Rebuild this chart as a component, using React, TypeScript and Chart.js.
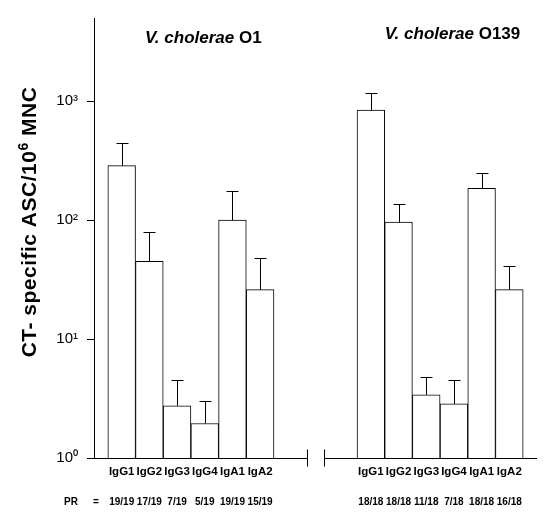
import React, { useEffect, useRef } from "react";
import { Chart, registerables } from "chart.js";
Chart.register(...registerables);

const isotypes = ["IgG1", "IgG2", "IgG3", "IgG4", "IgA1", "IgA2"];
const o1Values = [287, 45, 2.75, 1.95, 100, 26];
const o1ErrTop = [447, 79, 4.5, 3.0, 177, 48];
const o139Values = [840, 96, 3.4, 2.85, 185, 26];
const o139ErrTop = [1170, 136, 4.8, 4.5, 250, 41];
const o1PR = ["19/19", "17/19", "7/19", "5/19", "19/19", "15/19"];
const o139PR = ["18/18", "18/18", "11/18", "7/18", "18/18", "16/18"];
const yTicks = [1, 10, 100, 1000];
const supers = ["⁰", "¹", "²", "³"];
const groupTitles = [
  ["V. cholerae ", "O1"],
  ["V. cholerae ", "O139"],
];
const yTitleParts = ["CT- specific ASC/10", "6", " MNC"];
const prLabel = "PR";
const prEq = "=";

const GAP = 3;
const pad = <T,>(a: T[], b: T[], fill: T): T[] => [
  fill,
  ...a,
  ...Array(GAP).fill(fill),
  ...b,
  fill,
];
const labels = pad(isotypes, isotypes, "");
const values = pad<number | null>(o1Values, o139Values, null);
const errTop = pad<number | null>(o1ErrTop, o139ErrTop, null);
const prRow = pad(o1PR, o139PR, "");
const breakIndex = 1 + isotypes.length + (GAP - 1) / 2;

const FONT = "'Liberation Sans', Arial, Helvetica, sans-serif";

const extras = {
  id: "extras",
  afterDatasetsDraw(chart: any) {
    const ctx = chart.ctx;
    const xs = chart.scales.x;
    const ys = chart.scales.y;
    const meta = chart.getDatasetMeta(0);
    const area = chart.chartArea;
    const step = xs.getPixelForValue(1) - xs.getPixelForValue(0);
    ctx.save();
    ctx.strokeStyle = "#000";
    ctx.lineWidth = 1;
    // error bars
    meta.data.forEach((bar: any, i: number) => {
      if (values[i] == null || errTop[i] == null) return;
      const x = Math.round(bar.x) + 0.5;
      const y0 = ys.getPixelForValue(values[i]);
      const y1 = Math.round(ys.getPixelForValue(errTop[i])) + 0.5;
      ctx.beginPath();
      ctx.moveTo(x, y0);
      ctx.lineTo(x, y1);
      ctx.moveTo(x - 6, y1);
      ctx.lineTo(x + 6, y1);
      ctx.stroke();
    });
    // broken x axis
    const yb = Math.round(area.bottom) + 0.5;
    const bc = xs.getPixelForValue(breakIndex);
    const b1 = Math.round(bc - 0.3 * step) + 0.5;
    const b2 = Math.round(bc + 0.3 * step) + 0.5;
    ctx.beginPath();
    ctx.moveTo(area.left, yb);
    ctx.lineTo(b1, yb);
    ctx.moveTo(b2, yb);
    ctx.lineTo(area.right, yb);
    ctx.moveTo(b1, yb - 9);
    ctx.lineTo(b1, yb + 8);
    ctx.moveTo(b2, yb - 9);
    ctx.lineTo(b2, yb + 8);
    ctx.stroke();

    ctx.fillStyle = "#000";
    // PR row
    ctx.font = `bold 10px ${FONT}`;
    ctx.textAlign = "center";
    ctx.textBaseline = "middle";
    const prY = area.bottom + 44;
    prRow.forEach((t, i) => {
      if (!t) return;
      ctx.fillText(t, xs.getPixelForValue(i), prY);
    });
    ctx.fillText(prLabel, area.left - 23, prY);
    ctx.fillText(prEq, area.left + 2, prY);

    // group titles
    const groups = [
      { first: 1, last: isotypes.length, base: area.top + 25 },
      {
        first: 1 + isotypes.length + GAP,
        last: isotypes.length * 2 + GAP,
        base: area.top + 21,
      },
    ];
    groups.forEach((g, k) => {
      const [it, rg] = groupTitles[k];
      const cx =
        (xs.getPixelForValue(g.first) + xs.getPixelForValue(g.last)) / 2 +
        0.45 * step;
      ctx.font = `italic bold 17px ${FONT}`;
      const w1 = ctx.measureText(it).width;
      ctx.font = `bold 17px ${FONT}`;
      const w2 = ctx.measureText(rg).width;
      const sx = cx - (w1 + w2) / 2;
      ctx.textAlign = "left";
      ctx.textBaseline = "alphabetic";
      ctx.font = `italic bold 17px ${FONT}`;
      ctx.fillText(it, sx, g.base);
      ctx.font = `bold 17px ${FONT}`;
      ctx.fillText(rg, sx + w1, g.base);
    });

    // y title
    ctx.save();
    const cy = (area.top + area.bottom) / 2 - 16;
    ctx.translate(36, cy);
    ctx.rotate(-Math.PI / 2);
    try {
      (ctx as any).letterSpacing = "0.5px";
    } catch (e) {}
    const big = `bold 21px ${FONT}`;
    const small = `bold 14px ${FONT}`;
    ctx.font = big;
    const wa = ctx.measureText(yTitleParts[0]).width;
    const wc = ctx.measureText(yTitleParts[2]).width;
    ctx.font = small;
    const wb = ctx.measureText(yTitleParts[1]).width;
    let px = -(wa + wb + wc) / 2;
    ctx.textAlign = "left";
    ctx.textBaseline = "alphabetic";
    ctx.font = big;
    ctx.fillText(yTitleParts[0], px, 0);
    px += wa;
    ctx.font = small;
    ctx.fillText(yTitleParts[1], px, -8);
    px += wb;
    ctx.font = big;
    ctx.fillText(yTitleParts[2], px, 0);
    ctx.restore();

    ctx.restore();
  },
};

export default function App() {
  const ref = useRef<HTMLCanvasElement | null>(null);
  useEffect(() => {
    if (!ref.current) return;
    const chart = new Chart(ref.current, {
      type: "bar",
      data: {
        labels,
        datasets: [
          {
            data: values as any,
            backgroundColor: "#ffffff",
            borderColor: "#000000",
            borderWidth: 1,
            barPercentage: 1,
            categoryPercentage: 1,
          },
        ],
      },
      options: {
        responsive: false,
        animation: false,
        events: [],
        layout: { padding: { left: 0, top: 14, right: 17, bottom: 0 } },
        plugins: {
          legend: { display: false },
          tooltip: { enabled: false },
          title: { display: false },
        },
        scales: {
          x: {
            type: "category",
            offset: false,
            grid: { display: false, drawTicks: false },
            border: { display: false },
            ticks: {
              autoSkip: false,
              maxRotation: 0,
              minRotation: 0,
              padding: 7,
              color: "#000",
              font: { family: FONT, size: 11.5, weight: "bold" },
            },
            afterFit: (s: any) => {
              s.height = 56;
            },
          },
          y: {
            type: "logarithmic",
            min: 1,
            max: 5000,
            grid: {
              drawOnChartArea: false,
              drawTicks: true,
              tickLength: 7,
              color: "#000",
              lineWidth: 1,
            },
            border: { display: true, color: "#000", width: 1 },
            afterBuildTicks: (s: any) => {
              s.ticks = yTicks.map((v) => ({ value: v }));
            },
            ticks: {
              padding: 9,
              color: "#000",
              font: { family: FONT, size: 15 },
              callback: (v: any) => "10" + supers[Math.round(Math.log10(Number(v)))],
            },
            afterFit: (s: any) => {
              s.width = 94;
            },
          },
        },
      },
      plugins: [extras],
    });
    return () => chart.destroy();
  }, []);
  return (
    <div style={{ position: "fixed", left: 0, top: 0, width: 554, height: 514, background: "#fff" }}>
      <canvas ref={ref} width={554} height={514} />
    </div>
  );
}
